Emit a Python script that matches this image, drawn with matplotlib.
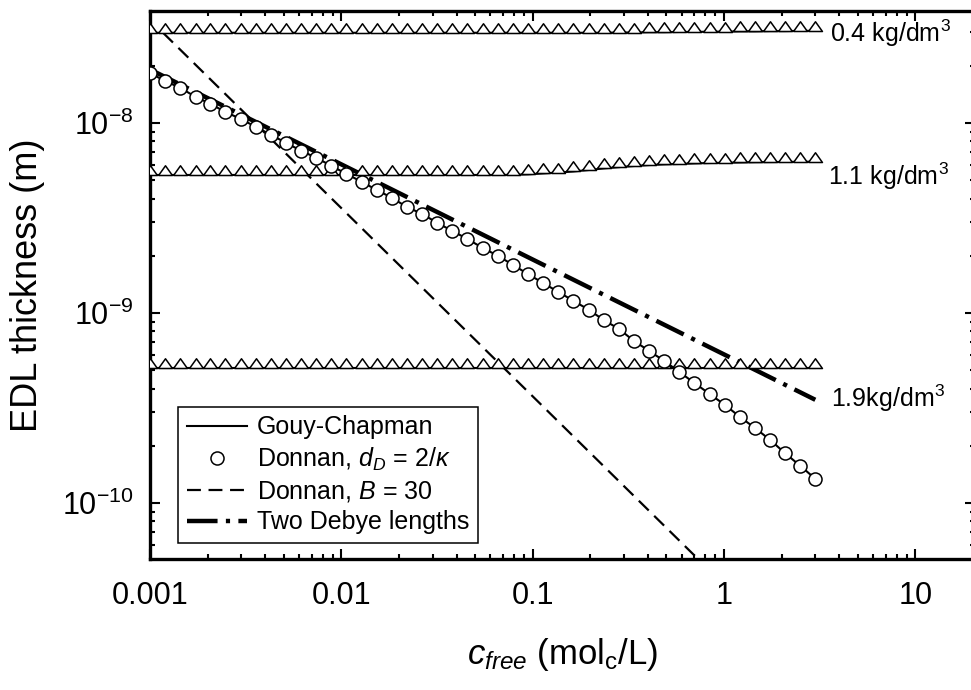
import matplotlib
matplotlib.use("Agg")
import matplotlib.pyplot as plt
from matplotlib.ticker import FixedLocator, FixedFormatter, LogLocator, NullFormatter

plt.rcParams['font.family'] = ['Liberation Sans', 'DejaVu Sans']
plt.rcParams['mathtext.fontset'] = 'custom'
plt.rcParams['mathtext.rm'] = 'Liberation Sans'
plt.rcParams['mathtext.it'] = 'Liberation Sans:italic'
plt.rcParams['mathtext.bf'] = 'Liberation Sans:bold'
plt.rcParams['lines.scale_dashes'] = False

# ---------------- data ----------------
c_grid = [0.00100, 0.00120, 0.00144, 0.00173, 0.00207, 0.00248, 0.00298, 0.00357, 0.00429, 0.00514,
          0.00617, 0.00740, 0.00887, 0.0106, 0.0128, 0.0153, 0.0184, 0.0220, 0.0264, 0.0317,
          0.0380, 0.0456, 0.0547, 0.0657, 0.0788, 0.0946, 0.113, 0.136, 0.163, 0.196,
          0.235, 0.282, 0.338, 0.406, 0.487, 0.584, 0.700, 0.840, 1.01, 1.21,
          1.45, 1.74, 2.08, 2.50, 3.00]

donnan_2k = [1.83e-8, 1.66e-8, 1.53e-8, 1.37e-8, 1.26e-8, 1.14e-8, 1.05e-8, 9.53e-9, 8.65e-9, 7.85e-9,
             7.13e-9, 6.55e-9, 5.94e-9, 5.40e-9, 4.89e-9, 4.44e-9, 4.03e-9, 3.61e-9, 3.32e-9, 2.98e-9,
             2.70e-9, 2.45e-9, 2.20e-9, 2.00e-9, 1.79e-9, 1.60e-9, 1.44e-9, 1.29e-9, 1.16e-9, 1.04e-9,
             9.18e-10, 8.24e-10, 7.13e-10, 6.31e-10, 5.59e-10, 4.89e-10, 4.28e-10, 3.75e-10, 3.28e-10, 2.84e-10,
             2.48e-10, 2.15e-10, 1.83e-10, 1.57e-10, 1.34e-10]

gc_04 = [2.98e-8, 2.98e-8, 2.98e-8, 2.98e-8, 2.98e-8, 2.98e-8, 2.98e-8, 2.98e-8, 2.98e-8, 2.98e-8,
         2.98e-8, 2.98e-8, 2.98e-8, 2.98e-8, 2.98e-8, 2.98e-8, 2.98e-8, 2.98e-8, 2.98e-8, 2.98e-8,
         2.98e-8, 2.98e-8, 2.98e-8, 2.98e-8, 2.98e-8, 2.98e-8, 2.98e-8, 2.98e-8, 2.98e-8, 2.98e-8,
         2.98e-8, 2.99e-8, 2.99e-8, 3.00e-8, 3.00e-8, 3.01e-8, 3.01e-8, 3.02e-8, 3.02e-8, 3.03e-8,
         3.03e-8, 3.04e-8, 3.04e-8, 3.05e-8, 3.05e-8]

gc_11 = [5.32e-9, 5.32e-9, 5.32e-9, 5.32e-9, 5.32e-9, 5.32e-9, 5.32e-9, 5.32e-9, 5.32e-9, 5.32e-9,
         5.32e-9, 5.32e-9, 5.32e-9, 5.32e-9, 5.32e-9, 5.32e-9, 5.32e-9, 5.32e-9, 5.32e-9, 5.32e-9,
         5.32e-9, 5.32e-9, 5.32e-9, 5.32e-9, 5.33e-9, 5.36e-9, 5.42e-9, 5.48e-9, 5.55e-9, 5.65e-9,
         5.76e-9, 5.85e-9, 5.93e-9, 6.00e-9, 6.05e-9, 6.08e-9, 6.12e-9, 6.15e-9, 6.17e-9, 6.19e-9,
         6.21e-9, 6.22e-9, 6.23e-9, 6.24e-9, 6.25e-9]

gc_19 = [5.14e-10, 5.14e-10, 5.14e-10, 5.14e-10, 5.14e-10, 5.14e-10, 5.14e-10, 5.14e-10, 5.14e-10, 5.14e-10,
         5.14e-10, 5.14e-10, 5.14e-10, 5.14e-10, 5.14e-10, 5.14e-10, 5.14e-10, 5.14e-10, 5.14e-10, 5.14e-10,
         5.14e-10, 5.14e-10, 5.14e-10, 5.14e-10, 5.14e-10, 5.14e-10, 5.14e-10, 5.14e-10, 5.14e-10, 5.14e-10,
         5.14e-10, 5.14e-10, 5.14e-10, 5.14e-10, 5.14e-10, 5.14e-10, 5.14e-10, 5.14e-10, 5.14e-10, 5.14e-10,
         5.14e-10, 5.14e-10, 5.14e-10, 5.14e-10, 5.14e-10]

c_b30 = [0.00117, 0.01, 0.1, 1.0]
d_b30 = [2.98e-8, 3.56e-9, 3.64e-10, 3.72e-11]

c_debye = [0.001, 0.01, 0.1, 1.0, 3.0]
d_debye = [1.91e-8, 6.05e-9, 1.91e-9, 6.05e-10, 3.49e-10]

density_labels = [r'0.4 kg/dm$^3$', r'1.1 kg/dm$^3$', r'1.9kg/dm$^3$']
label_pos = [(3.6, 2.67e-8), (3.5, 4.72e-9), (3.63, 3.2e-10)]

xticks = [0.001, 0.01, 0.1, 1, 10]
xtick_labels = ['0.001', '0.01', '0.1', '1', '10']
yticks = [1e-10, 1e-9, 1e-8]
ytick_labels = [r'$10^{-10}$', r'$10^{-9}$', r'$10^{-8}$']

legend_labels = ['Gouy-Chapman', r'Donnan, $d_D$ = 2/$\kappa$', r'Donnan, $B$ = 30', 'Two Debye lengths']

# ---------------- figure ----------------
fig = plt.figure(figsize=(9.71, 6.9), dpi=100)
ax = fig.add_axes([150 / 971, 1 - 559 / 690, (975 - 150) / 971, (559 - 11) / 690])
ax.set_xscale('log')
ax.set_yscale('log')
ax.set_xlim(1e-3, 20.5)
ax.set_ylim(5.07e-11, 3.88e-8)

tri = [(-1, 0), (1, 0), (0, 1.4), (-1, 0)]

# dashed Donnan B = 30
h_b30, = ax.plot(c_b30, d_b30, color='black', lw=1.6, dashes=(10, 5.5), zorder=2)
# two Debye lengths
h_deb, = ax.plot(c_debye, d_debye, color='black', lw=3.2, dashes=(22, 6, 3, 6), zorder=2)

# Gouy-Chapman lines with triangles
h_gc = None
for d in (gc_04, gc_11, gc_19):
    ln, = ax.plot(c_grid, d, color='black', lw=1.5, zorder=3)
    if h_gc is None:
        h_gc = ln
    ax.plot(c_grid, d, linestyle='none', marker=tri, markersize=14,
            markerfacecolor='white', markeredgecolor='black', markeredgewidth=1.1, zorder=4)

# Donnan 2/kappa circles
ax.plot(c_grid, donnan_2k, color='black', lw=1.5, zorder=5)
h_don, = ax.plot(c_grid, donnan_2k, linestyle='none', marker='o', markersize=9.4,
                 markerfacecolor='white', markeredgecolor='black', markeredgewidth=1.1, zorder=6)

for txt, (x, y) in zip(density_labels, label_pos):
    ax.text(x, y, txt, fontsize=18, ha='left', va='baseline', zorder=7)

# ticks
ax.xaxis.set_major_locator(FixedLocator(xticks))
ax.xaxis.set_major_formatter(FixedFormatter(xtick_labels))
ax.xaxis.set_minor_locator(LogLocator(base=10, subs=range(2, 10), numticks=20))
ax.xaxis.set_minor_formatter(NullFormatter())
ax.yaxis.set_major_locator(FixedLocator(yticks))
ax.yaxis.set_major_formatter(FixedFormatter(ytick_labels))
ax.yaxis.set_minor_locator(LogLocator(base=10, subs=range(2, 10), numticks=20))
ax.yaxis.set_minor_formatter(NullFormatter())

ax.tick_params(which='both', direction='in', top=True, right=True, width=1.5, colors='black')
ax.tick_params(which='major', length=7.5, labelsize=22)
ax.tick_params(which='minor', length=3.8)
ax.tick_params(axis='x', which='major', pad=16)
ax.tick_params(axis='y', which='major', pad=12)
for s in ax.spines.values():
    s.set_linewidth(2.4)

ax.set_xlabel(r'$c_{free}$ (mol$_\mathrm{c}$/L)', fontsize=25, labelpad=18)
ax.set_ylabel('EDL thickness (m)', fontsize=26, labelpad=12)

leg = ax.legend([h_gc, h_don, h_b30, h_deb], legend_labels, loc='lower left',
                bbox_to_anchor=(0.034, 0.029), borderaxespad=0, fontsize=18,
                frameon=True, fancybox=False, framealpha=1, edgecolor='black',
                handlelength=2.4, handletextpad=0.4, borderpad=0.35, labelspacing=0.25)
leg.get_frame().set_linewidth(1.1)
leg.set_zorder(10)

fig.savefig('out.png', dpi=100)
